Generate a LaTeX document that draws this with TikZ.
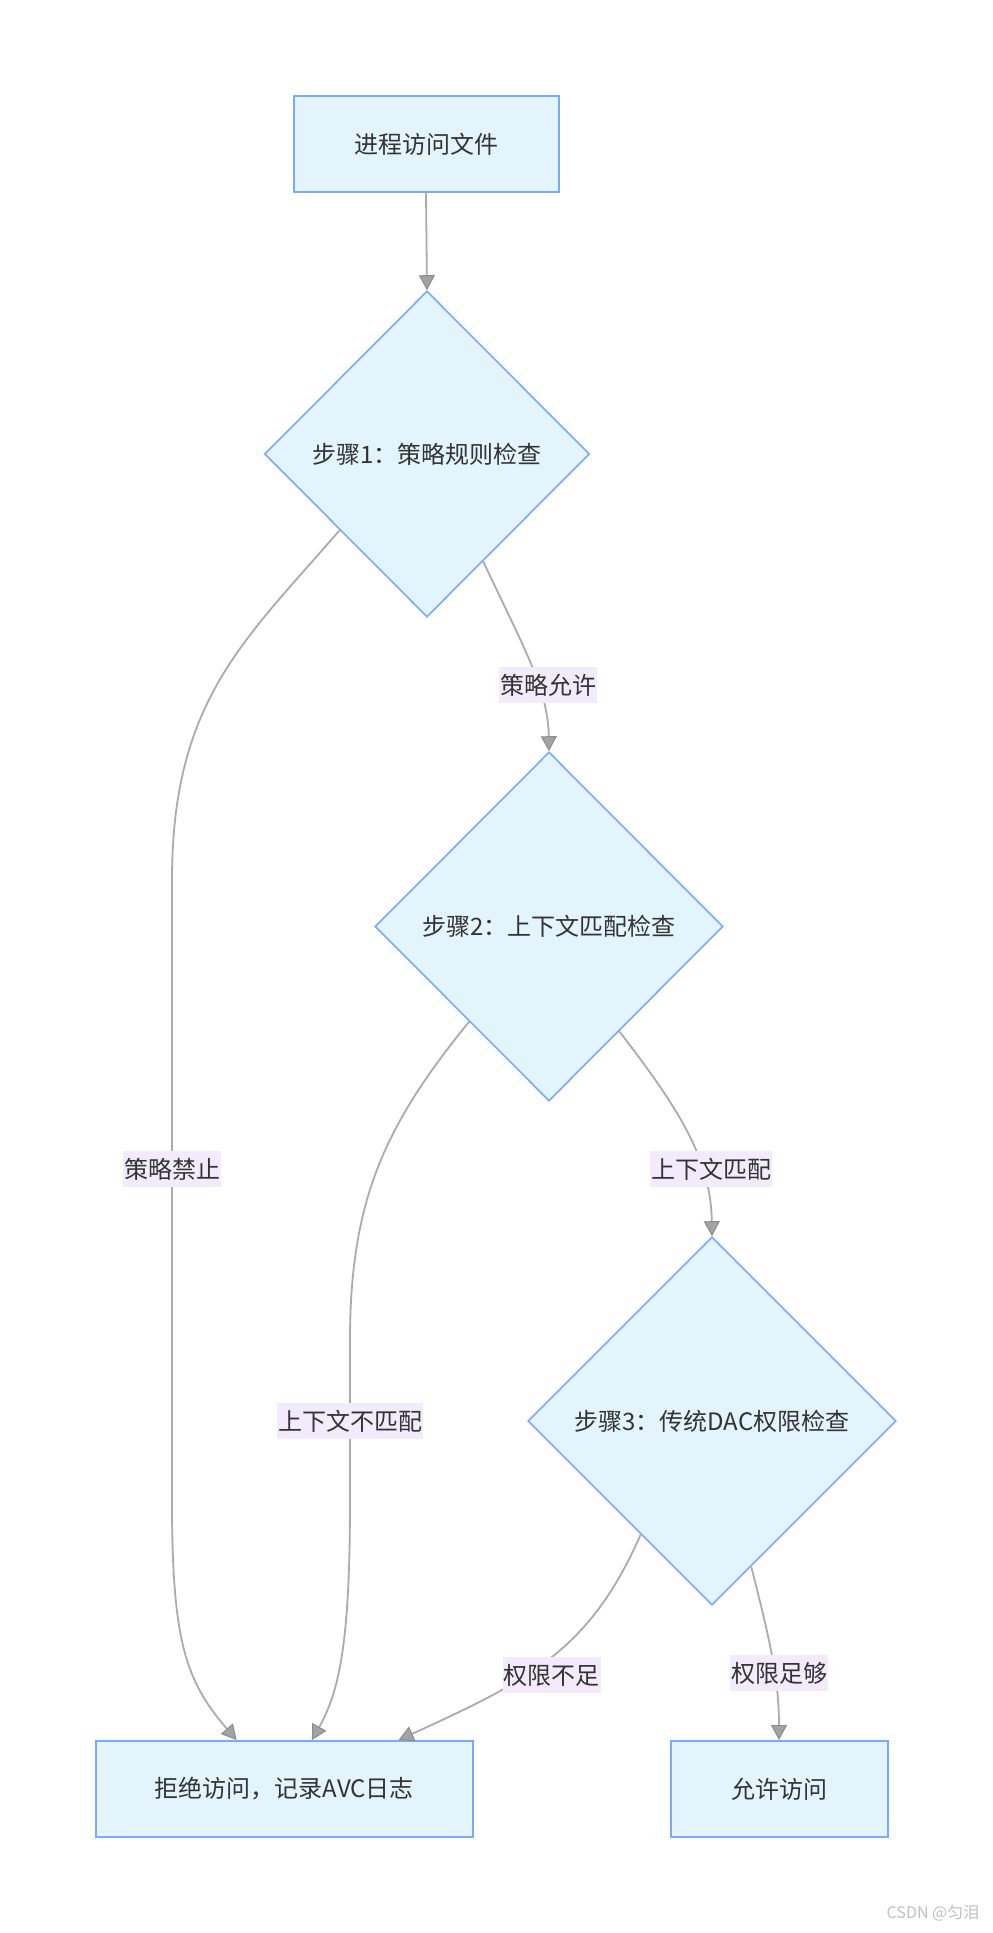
\documentclass[tikz,border=0pt]{standalone}
\usepackage{fontspec}
\setmainfont{Noto Sans CJK SC}
\usetikzlibrary{shapes.geometric,arrows.meta,calc}
\definecolor{nodefill}{HTML}{E3F4FD}
\definecolor{nodeline}{HTML}{78AAFF}
\definecolor{edgeline}{HTML}{ABABAB}
\definecolor{tipfill}{HTML}{A3A3A3}
\definecolor{tipdraw}{HTML}{8C8C8C}
\definecolor{lblfill}{HTML}{F3EBFC}
\definecolor{txt}{HTML}{333333}
\definecolor{wmcol}{HTML}{C0C0C0}
\begin{document}
\begin{tikzpicture}[x=0.5pt,y=-0.5pt,
  every node/.style={text=txt, font=\fontsize{12pt}{14pt}\selectfont},
  procbox/.style={draw=nodeline, fill=nodefill, line width=1pt, rectangle, inner sep=0pt},
  decide/.style={draw=nodeline, fill=nodefill, line width=0.8pt, diamond, inner sep=0pt},
  flow/.style={draw=edgeline, line width=0.9pt, -{Triangle[length=7.5pt,width=8pt,fill=tipfill,color=tipdraw,line width=0.5pt]}},
  elabel/.style={fill=lblfill, inner xsep=0.5pt, inner ysep=0pt, minimum height=18pt},
]
\fill[white] (0,0) rectangle (992,1933);
\useasboundingbox (0,0) rectangle (992,1933);

\node[procbox, minimum width=132.5pt, minimum height=48pt] (start) at (426,144) {进程访问文件};
\node[decide, minimum width=162.5pt, minimum height=163pt] (d1) at (427,454) {步骤1：策略规则检查};
\node[decide, minimum width=174pt, minimum height=174.5pt] (d2) at (549,926.5) {步骤2：上下文匹配检查};
\node[decide, minimum width=184pt, minimum height=184pt] (d3) at (712,1421) {步骤3：传统DAC权限检查};
\node[procbox, minimum width=188.3pt, minimum height=48pt] (deny) at (284.3,1789) {拒绝访问，记录AVC日志};
\node[procbox, minimum width=108.5pt, minimum height=48pt] (allow) at (779,1789) {允许访问};

\draw[flow] (start.south) -- (d1.north);
\draw[flow] ($(d1.west)!0.465!(d1.south)$) .. controls (245,640) and (172,700) .. (172,880) -- (172,1500) .. controls (172,1640) and (185,1680) .. ($(deny.north west)!0.374!(deny.north east)$);
\draw[flow] ($(d1.east)!0.656!(d1.south)$) .. controls (525,650) and (548,690) .. (d2.north);
\draw[flow] ($(d2.west)!0.543!(d2.south)$) .. controls (385,1125) and (350,1200) .. (350,1340) -- (350,1500) .. controls (350,1640) and (340,1690) .. ($(deny.north west)!0.573!(deny.north east)$);
\draw[flow] ($(d2.east)!0.598!(d2.south)$) .. controls (680,1110) and (711,1160) .. (d3.north);
\draw[flow] ($(d3.west)!0.614!(d3.south)$) .. controls (590,1650) and (530,1680) .. ($(deny.north west)!0.802!(deny.north east)$);
\draw[flow] ($(d3.east)!0.788!(d3.south)$) .. controls (770,1640) and (779,1680) .. (allow.north);

\node[elabel] (l1) at (548,685) {策略允许};
\node[elabel] (l2) at (172,1169) {策略禁止};
\node[elabel] (l3) at (711,1169) {上下文匹配};
\node[elabel] (l4) at (350,1421) {上下文不匹配};
\node[elabel] (l5) at (551.5,1675) {权限不足};
\node[elabel] (l6) at (779,1673) {权限足够};
\node[text=wmcol, font=\fontsize{8pt}{10pt}\selectfont] (wm) at (933,1913) {CSDN @匀泪};
\end{tikzpicture}
\end{document}
